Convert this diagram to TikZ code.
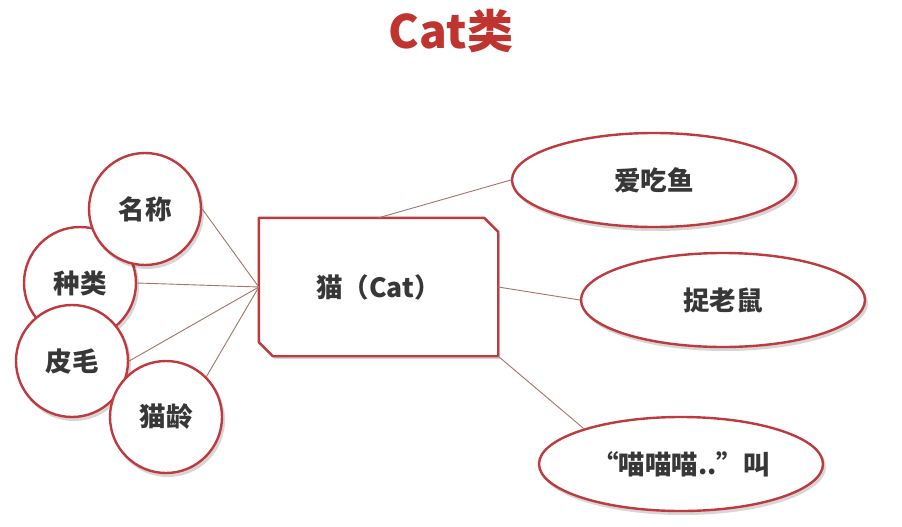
\documentclass[tikz,border=0pt]{standalone}
\usepackage{fontspec}
\newfontfamily\cjk{Noto Sans CJK SC}
\usetikzlibrary{shapes.geometric}
\definecolor{rimred}{RGB}{190,58,62}
\definecolor{titlered}{RGB}{192,52,48}
\definecolor{linkc}{RGB}{165,115,105}
\definecolor{txt}{RGB}{55,55,55}
\tikzset{
  every node/.style={font=\cjk\bfseries\fontsize{26.5}{30}\selectfont, text=txt},
  shade/.style={fill=black, opacity=0.16},
  circ/.style={circle, draw=rimred, line width=2.4pt, fill=white, minimum size=112pt, inner sep=0pt},
  ell/.style={ellipse, draw=rimred, line width=2.4pt, fill=white, minimum width=284pt, minimum height=94pt, inner sep=0pt},
  link/.style={draw=linkc, line width=0.9pt},
  rim/.style={draw=rimred, line width=2.4pt, fill=white, line join=round},
}
\begin{document}
\begin{tikzpicture}[x=1pt,y=-1pt]
\fill[white] (0,0) rectangle (902,527);
\useasboundingbox (0,0) rectangle (902,527);
% title
\node[font=\cjk\bfseries\fontsize{46}{52}\selectfont, text=titlered] (title) at (451,31) {Cat类};
% central box
\node[minimum width=239pt, minimum height=138pt, inner sep=0pt] (box) at (378.5,287) {};
\fill[shade] ([shift={(2pt,-3pt)}]box.north west) -- ([shift={(-12pt,-3pt)}]box.north east) -- ([shift={(2pt,-17pt)}]box.north east) -- ([shift={(2pt,-3pt)}]box.south east) -- ([shift={(16pt,-3pt)}]box.south west) -- ([shift={(2pt,11pt)}]box.south west) -- cycle;
\draw[rim] (box.north west) -- ([xshift=-14pt]box.north east) -- ([yshift=-14pt]box.north east) -- (box.south east) -- ([xshift=14pt]box.south west) -- ([yshift=14pt]box.south west) -- cycle;
\node (boxtext) at (box.center) {猫（Cat）};
% left circles
\fill[shade] (82,286) circle (57pt);
\node[circ] (c2) at (80,283) {种类};
\fill[shade] (147,212) circle (57pt);
\node[circ] (c1) at (145,209) {名称};
\fill[shade] (74,364) circle (57pt);
\node[circ] (c3) at (72,361) {皮毛};
\fill[shade] (168,420) circle (57pt);
\node[circ] (c4) at (166,417) {猫龄};
% right ellipses
\fill[shade] (656,183) ellipse (143pt and 48pt);
\node[ell] (e1) at (654,180) {爱吃鱼};
\fill[shade] (725,303) ellipse (143pt and 48pt);
\node[ell] (e2) at (723,300) {捉老鼠};
\fill[shade] (683,467) ellipse (143pt and 48pt);
\node[ell] (e3) at (681,464) {“喵喵喵..”叫};
% connectors
\draw[link] (c1.east) -- (box.west);
\draw[link] (c2.east) -- (box.west);
\draw[link] (c3.east) -- (box.west);
\draw[link] (c4.north east) -- (box.west);
\draw[link] (box.north) -- (e1.west);
\draw[link] (box.east) -- (e2.west);
\draw[link] (box.south east) -- (e3.160);
\end{tikzpicture}
\end{document}
